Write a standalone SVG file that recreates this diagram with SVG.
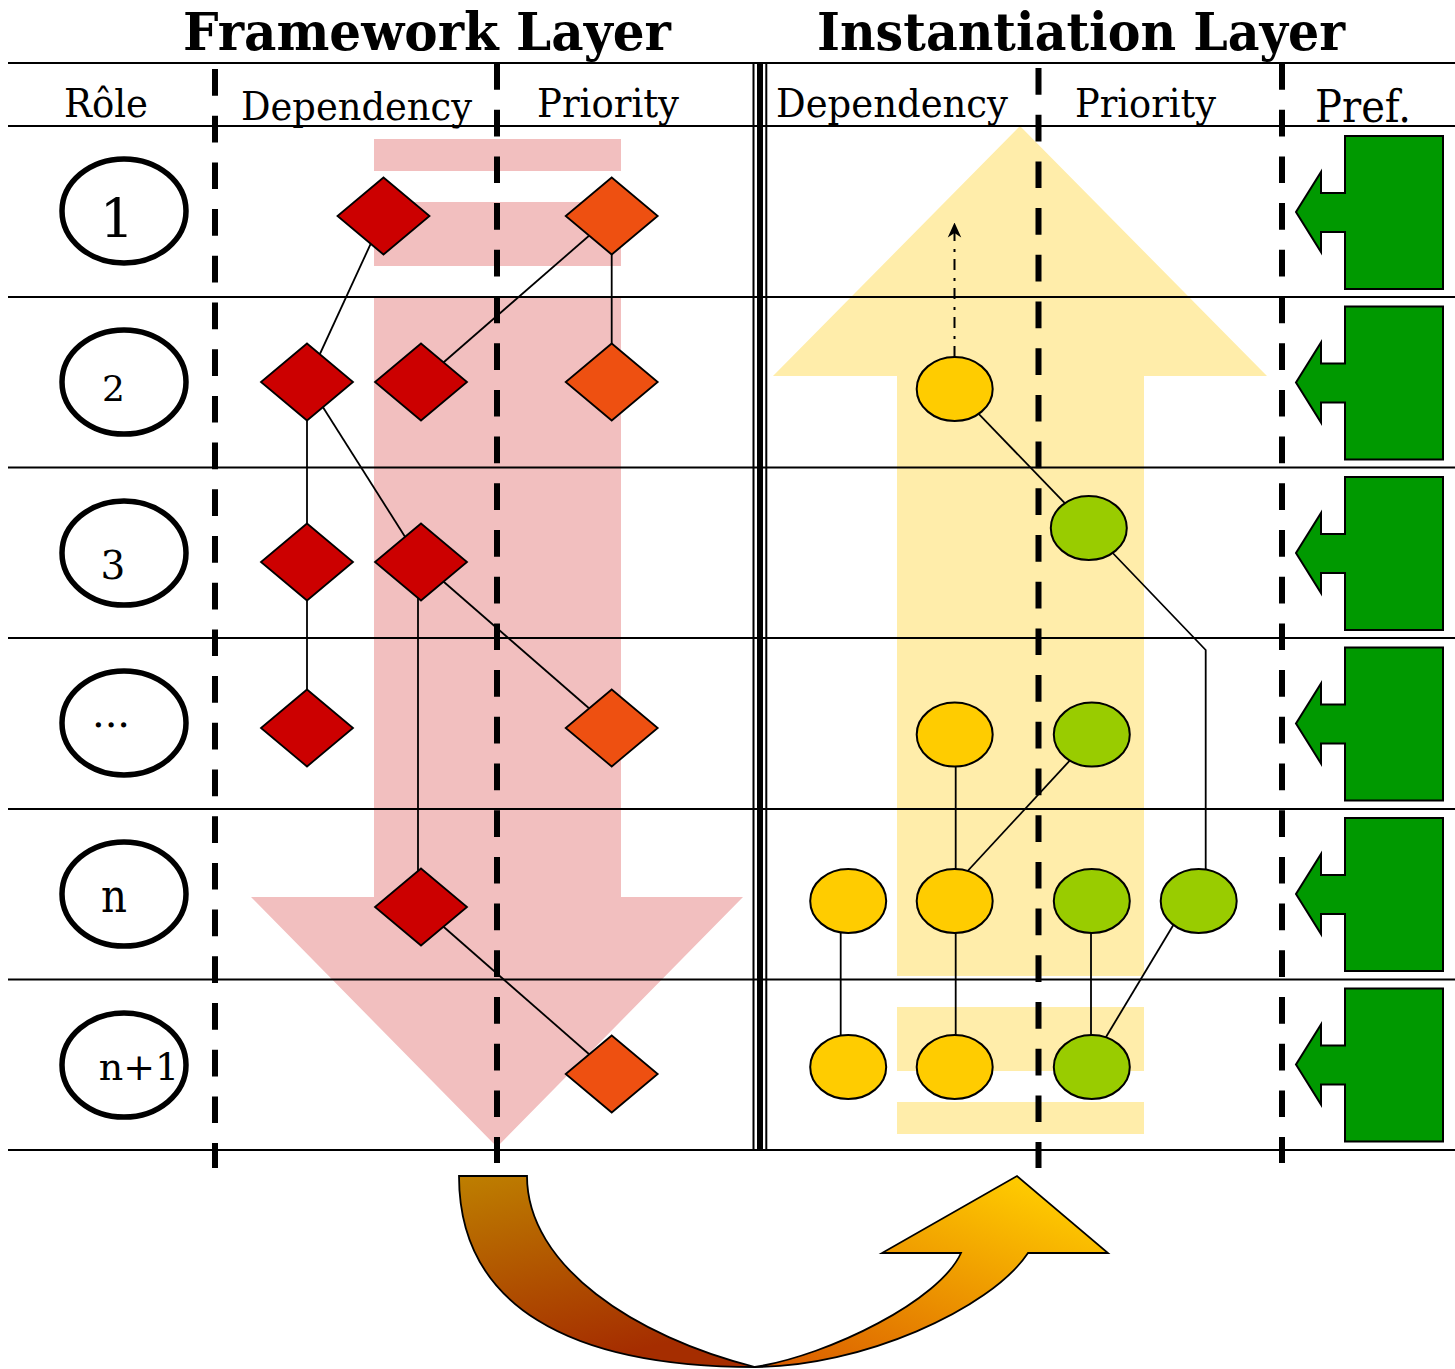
<svg xmlns="http://www.w3.org/2000/svg" width="1455" height="1369" viewBox="0 0 1455 1369">
<defs>
<style>
.hline{stroke:#000;stroke-width:2;fill:none}
.vdash{stroke:#000;stroke-width:6;stroke-dasharray:26.7 20;fill:none}
.conn{stroke:#000;stroke-width:1.8;fill:none}
.role{fill:#fff;stroke:#000;stroke-width:5.5}
.red{fill:#cc0000;stroke:#000;stroke-width:1.8}
.orange{fill:#ee5011;stroke:#000;stroke-width:1.8}
.yel{fill:#ffcc00;stroke:#000;stroke-width:2}
.grn{fill:#99cc00;stroke:#000;stroke-width:2}
.pref{fill:#009900;stroke:#000;stroke-width:2}
.title{font-family:"DejaVu Serif","Liberation Serif",serif;font-weight:bold;font-size:52px;fill:#000}
.head{font-family:"DejaVu Serif","Liberation Serif",serif;font-size:39px;fill:#000}
.lbl{font-family:"DejaVu Serif","Liberation Serif",serif;fill:#000;text-anchor:middle}
</style>
<marker id="arrowUp" viewBox="0 0 10 10" refX="9" refY="5" markerWidth="15" markerHeight="15" markerUnits="userSpaceOnUse" orient="auto">
<path d="M0,0.5 L10,5 L0,9.5 L3,5 Z" fill="#000"/>
</marker>
<linearGradient id="gLeft" x1="0" y1="0" x2="0.35" y2="1">
<stop offset="0" stop-color="#be7f00"/>
<stop offset="1" stop-color="#a52d00"/>
</linearGradient>
<linearGradient id="gRight" x1="0" y1="1" x2="0.75" y2="0">
<stop offset="0" stop-color="#d95a00"/>
<stop offset="1" stop-color="#ffcc00"/>
</linearGradient>
<path id="prefShape" d="M1345,136 H1443 V289 H1345 V232 H1321 V252 L1296,212 L1321,172 V193 H1345 Z"/>
</defs>

<rect width="1455" height="1369" fill="#fff"/>

<!-- background layer arrows -->
<g id="framework-arrow" fill="#f2bfbf">
<rect x="374" y="139" width="247" height="32"/>
<rect x="374" y="202" width="247" height="64"/>
<path d="M374,297 H621 V897 H743 L497,1147 L251,897 H374 Z"/>
</g>
<g id="instantiation-arrow" fill="#ffedaa">
<path d="M1020,126 L1267,376 H1144 V976 H897 V376 H773 Z"/>
<rect x="897" y="1007" width="247" height="64"/>
<rect x="897" y="1102" width="247" height="32"/>
</g>

<!-- titles and headers -->
<g id="titles">
<text class="title" x="183" y="50" textLength="488" lengthAdjust="spacingAndGlyphs">Framework Layer</text>
<text class="title" x="817" y="50" textLength="528" lengthAdjust="spacingAndGlyphs">Instantiation Layer</text>
</g>
<g id="headers">
<text class="head" x="64" y="117" textLength="84" lengthAdjust="spacingAndGlyphs">Rôle</text>
<text class="head" x="241" y="120" textLength="231" lengthAdjust="spacingAndGlyphs">Dependency</text>
<text class="head" x="537" y="117" textLength="142" lengthAdjust="spacingAndGlyphs">Priority</text>
<text class="head" x="776" y="117" textLength="232" lengthAdjust="spacingAndGlyphs">Dependency</text>
<text class="head" x="1075" y="117" textLength="141" lengthAdjust="spacingAndGlyphs">Priority</text>
<text class="head" x="1315" y="122" style="font-size:45px" textLength="96" lengthAdjust="spacingAndGlyphs">Pref.</text>
</g>

<!-- grid -->
<g id="grid">
<line class="hline" x1="8" y1="63" x2="1455" y2="63"/>
<line class="hline" x1="8" y1="126" x2="1455" y2="126"/>
<line class="hline" x1="8" y1="297" x2="1455" y2="297"/>
<line class="hline" x1="8" y1="467.5" x2="1455" y2="467.5"/>
<line class="hline" x1="8" y1="638" x2="1455" y2="638"/>
<line class="hline" x1="8" y1="809" x2="1455" y2="809"/>
<line class="hline" x1="8" y1="979.5" x2="1455" y2="979.5"/>
<line class="hline" x1="8" y1="1150" x2="1455" y2="1150"/>
<line x1="753.5" y1="63" x2="753.5" y2="1150" stroke="#000" stroke-width="2"/>
<line x1="760" y1="63" x2="760" y2="1150" stroke="#000" stroke-width="6"/>
<line x1="766.3" y1="63" x2="766.3" y2="1150" stroke="#000" stroke-width="2"/>
<line class="vdash" x1="215" y1="69" x2="215" y2="1168"/>
<line class="vdash" x1="497" y1="63" x2="497" y2="1163"/>
<line class="vdash" x1="1038.5" y1="68" x2="1038.5" y2="1168"/>
<line class="vdash" x1="1282" y1="63" x2="1282" y2="1163"/>
</g>

<!-- connectors -->
<g id="connectors">
<line class="conn" x1="383.5" y1="216" x2="307" y2="382"/>
<line class="conn" x1="611.7" y1="216" x2="421" y2="382"/>
<line class="conn" x1="611.7" y1="216" x2="611.7" y2="382"/>
<line class="conn" x1="307" y1="382" x2="307" y2="728"/>
<line class="conn" x1="307" y1="382" x2="421" y2="562"/>
<line class="conn" x1="421" y1="562" x2="611.7" y2="728"/>
<line class="conn" x1="418" y1="562" x2="418" y2="907"/>
<line class="conn" x1="421" y1="907" x2="611.7" y2="1074"/>
<line x1="954.5" y1="357" x2="954.5" y2="224" stroke="#000" stroke-width="2" stroke-dasharray="11 7 3 8" marker-end="url(#arrowUp)"/>
<line class="conn" x1="954.7" y1="389" x2="1088.8" y2="528"/>
<polyline class="conn" points="1088.8,528 1205.7,650 1205.7,901"/>
<line class="conn" x1="955.7" y1="734.5" x2="955.7" y2="1067"/>
<line class="conn" x1="1074" y1="756" x2="963" y2="876"/>
<line class="conn" x1="840.7" y1="901" x2="840.7" y2="1067"/>
<line class="conn" x1="1091" y1="901" x2="1091" y2="1067"/>
<line class="conn" x1="1180" y1="914" x2="1100" y2="1047"/>
</g>

<!-- role nodes -->
<g id="role-1"><ellipse class="role" cx="124" cy="211" rx="62" ry="52"/><text class="lbl" x="117" y="238" font-size="54">1</text></g>
<g id="role-2"><ellipse class="role" cx="124" cy="382" rx="62" ry="52"/><text class="lbl" x="113.5" y="400.5" font-size="36">2</text></g>
<g id="role-3"><ellipse class="role" cx="124" cy="553" rx="62" ry="52"/><text class="lbl" x="113" y="579" font-size="39">3</text></g>
<g id="role-dots"><ellipse class="role" cx="124" cy="723" rx="62" ry="52"/><text class="lbl" x="111" y="727" font-size="40">...</text></g>
<g id="role-n"><ellipse class="role" cx="124" cy="894" rx="62" ry="52"/><text class="lbl" x="114" y="912" font-size="46" textLength="26" lengthAdjust="spacingAndGlyphs">n</text></g>
<g id="role-n1"><ellipse class="role" cx="124" cy="1065" rx="62" ry="52"/><text class="lbl" x="139" y="1080" font-size="38">n+1</text></g>

<!-- framework nodes -->
<g id="fw-dep-1"><polygon class="red" points="383.5,177.5 429.5,216 383.5,254.5 337.5,216"/></g>
<g id="fw-pri-1"><polygon class="orange" points="611.7,177.5 657.7,216 611.7,254.5 565.7,216"/></g>
<g id="fw-dep-2a"><polygon class="red" points="307,343.5 353,382 307,420.5 261,382"/></g>
<g id="fw-dep-2b"><polygon class="red" points="421,343.5 467,382 421,420.5 375,382"/></g>
<g id="fw-pri-2"><polygon class="orange" points="611.7,343.5 657.7,382 611.7,420.5 565.7,382"/></g>
<g id="fw-dep-3a"><polygon class="red" points="307,523.5 353,562 307,600.5 261,562"/></g>
<g id="fw-dep-3b"><polygon class="red" points="421,523.5 467,562 421,600.5 375,562"/></g>
<g id="fw-dep-4"><polygon class="red" points="307,689.5 353,728 307,766.5 261,728"/></g>
<g id="fw-pri-4"><polygon class="orange" points="611.7,689.5 657.7,728 611.7,766.5 565.7,728"/></g>
<g id="fw-dep-n"><polygon class="red" points="421,868.5 467,907 421,945.5 375,907"/></g>
<g id="fw-pri-n1"><polygon class="orange" points="611.7,1035.5 657.7,1074 611.7,1112.5 565.7,1074"/></g>

<!-- instantiation nodes -->
<g id="in-dep-2"><ellipse class="yel" cx="954.7" cy="389" rx="38" ry="32"/></g>
<g id="in-pri-3"><ellipse class="grn" cx="1088.8" cy="528" rx="38" ry="32"/></g>
<g id="in-dep-4"><ellipse class="yel" cx="954.7" cy="734.5" rx="38" ry="32"/></g>
<g id="in-pri-4"><ellipse class="grn" cx="1091.8" cy="734.5" rx="38" ry="32"/></g>
<g id="in-dep-n-a"><ellipse class="yel" cx="848.2" cy="901" rx="38" ry="32"/></g>
<g id="in-dep-n-b"><ellipse class="yel" cx="954.7" cy="901" rx="38" ry="32"/></g>
<g id="in-pri-n-a"><ellipse class="grn" cx="1091.8" cy="901" rx="38" ry="32"/></g>
<g id="in-pri-n-b"><ellipse class="grn" cx="1198.7" cy="901" rx="38" ry="32"/></g>
<g id="in-dep-n1-a"><ellipse class="yel" cx="848.2" cy="1067" rx="38" ry="32"/></g>
<g id="in-dep-n1-b"><ellipse class="yel" cx="954.7" cy="1067" rx="38" ry="32"/></g>
<g id="in-pri-n1"><ellipse class="grn" cx="1091.8" cy="1067" rx="38" ry="32"/></g>

<!-- preference arrows -->
<g id="pref-1"><use href="#prefShape" class="pref"/></g>
<g id="pref-2"><use href="#prefShape" class="pref" transform="translate(0,170.5)"/></g>
<g id="pref-3"><use href="#prefShape" class="pref" transform="translate(0,341)"/></g>
<g id="pref-4"><use href="#prefShape" class="pref" transform="translate(0,511.5)"/></g>
<g id="pref-5"><use href="#prefShape" class="pref" transform="translate(0,682)"/></g>
<g id="pref-6"><use href="#prefShape" class="pref" transform="translate(0,852.5)"/></g>

<!-- curved transfer arrow -->
<g id="transfer-arrow" stroke="#000" stroke-width="1.8" stroke-linejoin="miter">
<path fill="url(#gLeft)" d="M459,1176 L527,1176 C527,1266 635,1337 755,1367 C570,1367 459,1306 459,1176 Z"/>
<path fill="url(#gRight)" d="M755,1367 C860,1367 990,1310 1028,1253 L1108,1253 L1017,1176 L882,1253 L961,1253 C940,1300 830,1355 755,1367 Z"/>
</g>
</svg>
